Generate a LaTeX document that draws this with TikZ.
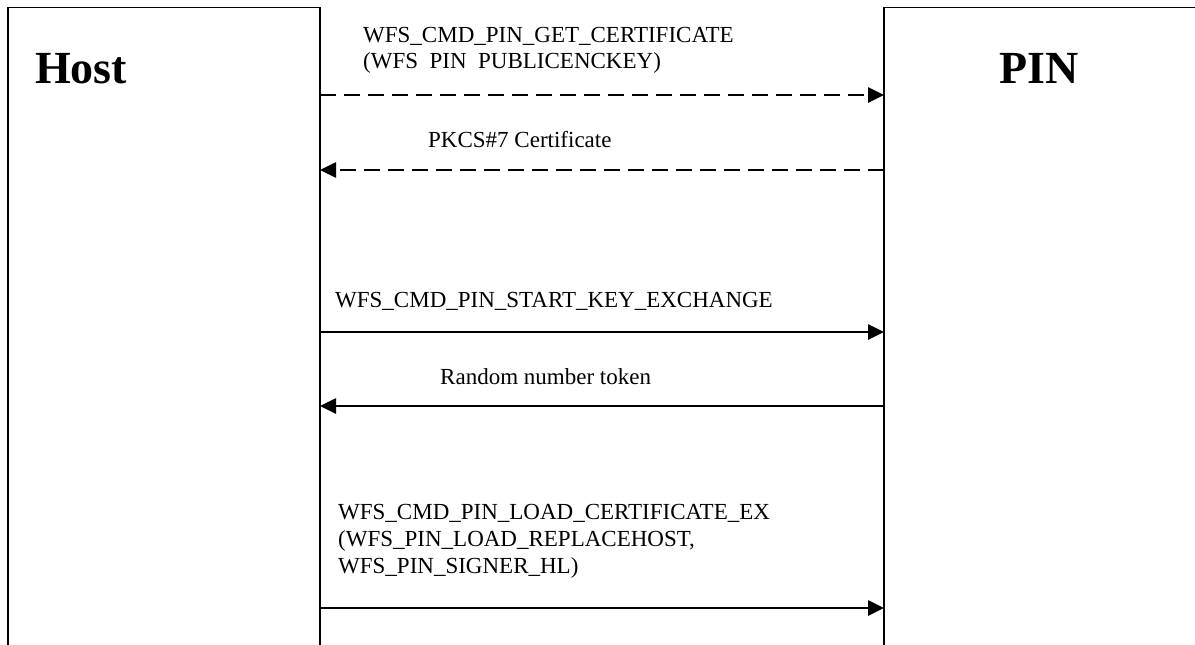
\documentclass[tikz,border=0pt]{standalone}
\usepackage{fontspec}
\setmainfont{Liberation Serif}
\usetikzlibrary{arrows.meta}
\begin{document}
\begin{tikzpicture}[x=1pt,y=-1pt,
  frame/.style={line width=1.6pt,black},
  msg/.style={line width=2.6pt,-{Triangle[length=16pt,width=15pt]}},
  dashmsg/.style={msg,dash pattern=on 16pt off 8pt},
  lbl/.style={inner sep=0pt,anchor=base west,align=left,font=\fontsize{23}{26.5}\selectfont},
  title/.style={inner sep=0pt,anchor=base west,font=\fontsize{46}{50}\selectfont\bfseries}]
\useasboundingbox (0,0) rectangle (1195,645);
% lifeline boxes
\draw[frame] (8,645) -- (8,7.5) -- (320,7.5) -- (320,645);
\draw[frame] (884,645) -- (884,7.5) -- (1195,7.5);
\node[title] (host) at (35,83) {Host};
\node[title] (pin) at (999,83) {PIN};
% arrow ends on lifelines
\coordinate (h1) at (320,95);  \coordinate (p1) at (884,95);
\coordinate (h2) at (320,170); \coordinate (p2) at (884,170);
\coordinate (h3) at (320,332); \coordinate (p3) at (884,332);
\coordinate (h4) at (320,406); \coordinate (p4) at (884,406);
\coordinate (h5) at (320,608); \coordinate (p5) at (884,608);
% labels (multi-line nodes are placed by the baseline of their last line)
\node[lbl,font=\fontsize{23}{26}\selectfont] (m1) at (363,68) {WFS\_CMD\_PIN\_GET\_CERTIFICATE\\(WFS\hphantom{\_}PIN\hphantom{\_}PUBLICENCKEY)};
\node[lbl] (m2) at (428,147) {PKCS\#7 Certificate};
\node[lbl] (m3) at (335,307) {WFS\_CMD\_PIN\_START\_KEY\_EXCHANGE};
\node[lbl] (m4) at (440,384) {Random number token};
\node[lbl,font=\fontsize{23}{27}\selectfont] (m5) at (338,573) {WFS\_CMD\_PIN\_LOAD\_CERTIFICATE\_EX\\(WFS\_PIN\_LOAD\_REPLACEHOST,\\WFS\_PIN\_SIGNER\_HL)};
% messages
\draw[dashmsg] (h1) -- (p1);
\draw[dashmsg] (p2) -- (h2);
\draw[msg] (h3) -- (p3);
\draw[msg] (p4) -- (h4);
\draw[msg] (h5) -- (p5);
\end{tikzpicture}
\end{document}
